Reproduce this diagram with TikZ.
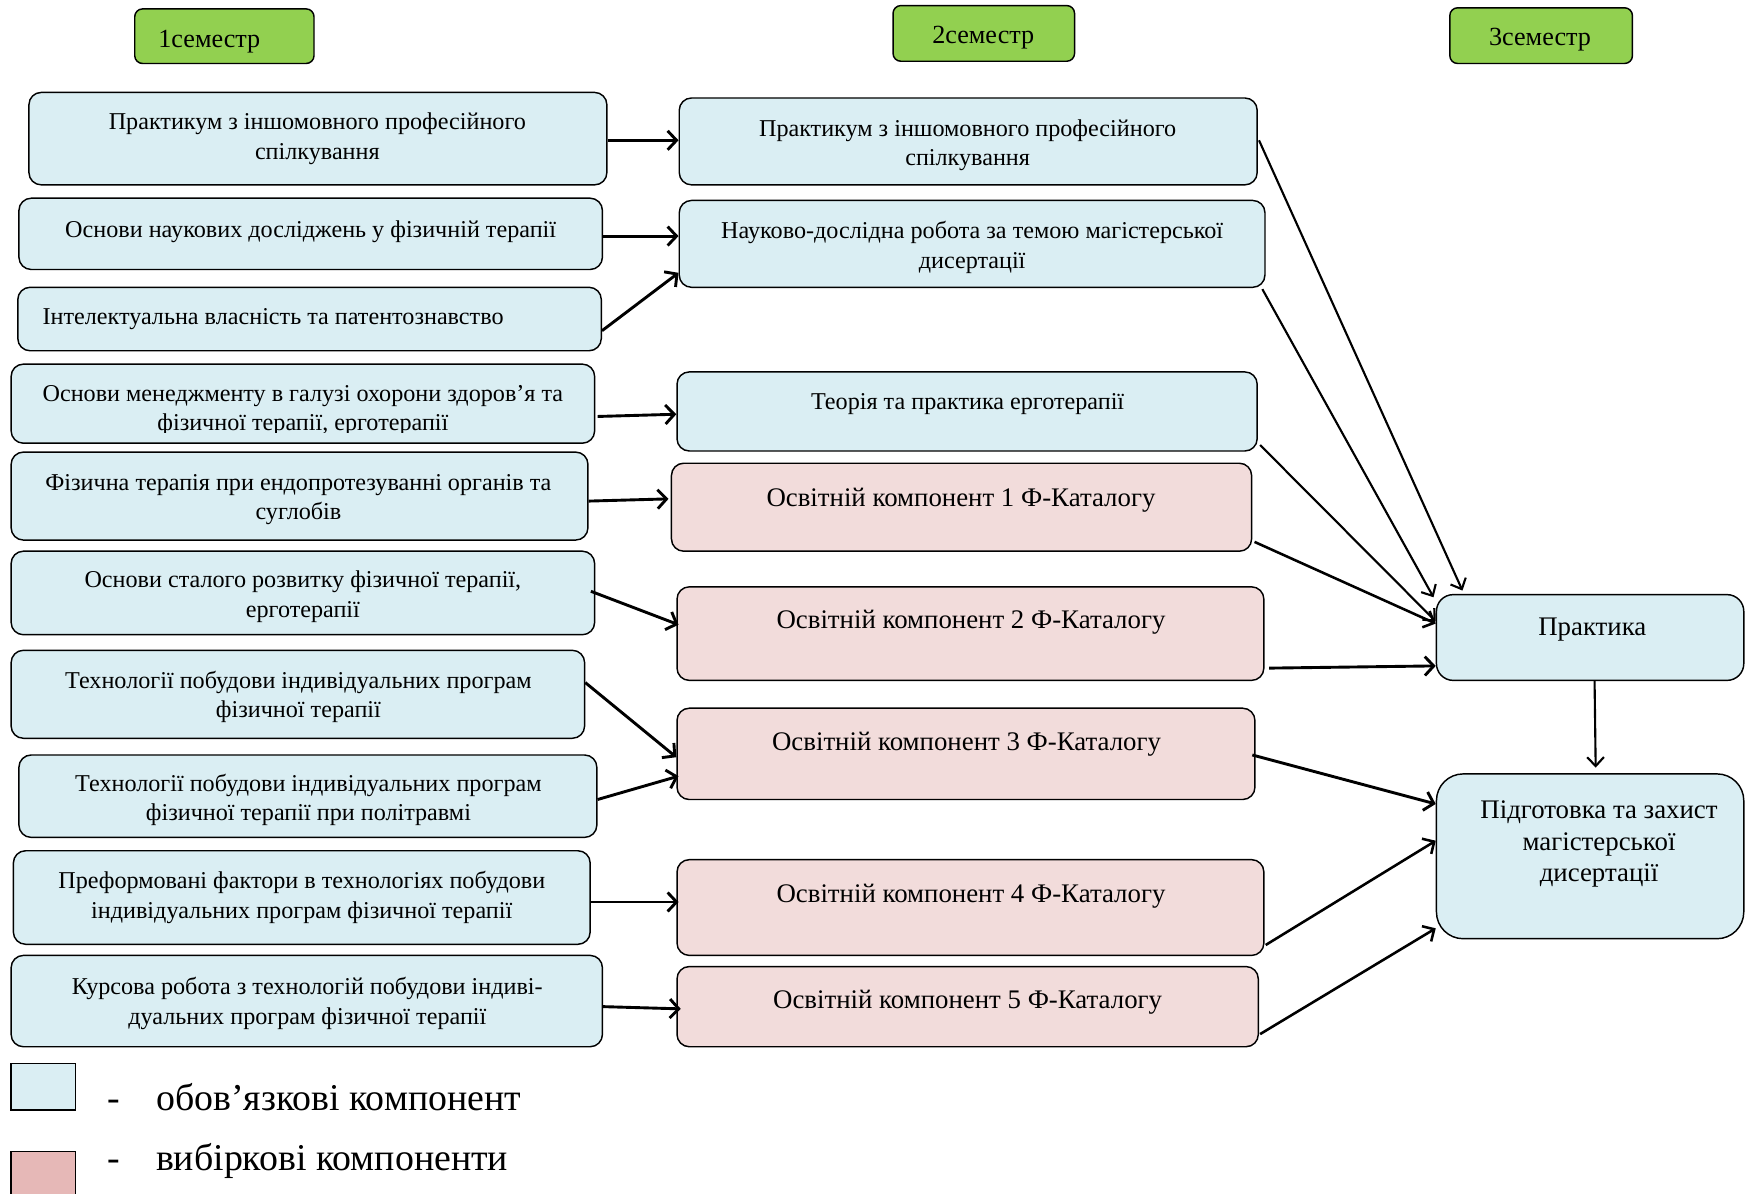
\documentclass[tikz,border=0pt]{standalone}
\usepackage{fontspec}
\setmainfont{Liberation Serif}
\usetikzlibrary{arrows.meta,fit}
\definecolor{bl}{HTML}{DAEEF3}
\definecolor{pk}{HTML}{F2DCDB}
\definecolor{pkl}{HTML}{E6B8B7}
\definecolor{gr}{HTML}{92D050}
\begin{document}
\begin{tikzpicture}[x=1pt,y=-1pt,
  box/.style={draw=black, line width=1.3pt, rounded corners=11pt, inner sep=0pt},
  bbox/.style={box, fill=bl},
  pbox/.style={box, fill=pk},
  hbox/.style={box, fill=gr, rounded corners=7pt},
  tb/.style={align=center, font=\fontsize{21.7}{26.5}\selectfont, inner sep=0pt, yshift=-3pt},
  tp/.style={align=center, font=\fontsize{24.1}{28}\selectfont, inner sep=0pt, yshift=-3pt},
  th/.style={align=center, font=\fontsize{23.5}{28}\selectfont, inner sep=0pt, yshift=-3pt},
  tl/.style={font=\fontsize{34}{38}\selectfont, inner sep=0pt, anchor=base west},
  arr/.style={-{Straight Barb[length=8pt,width=17pt]}, line width=2.6pt},
  arrm/.style={-{Straight Barb[length=8pt,width=16pt]}, line width=2.3pt},
  arrt/.style={-{Straight Barb[length=8pt,width=15pt]}, line width=1.9pt}
]
\useasboundingbox (0,0) rectangle (1568,1072);

% headers
\node[hbox, fit={(121,8) (282,57)}] (H1) {};
\node[th] (H1t) at (188,34) {1семестр};
\node[hbox, fit={(802,5) (965,55)}] (H2) {};
\node[th] (H2t) at (883,31) {2семестр};
\node[hbox, fit={(1302,7) (1466,57)}] (H3) {};
\node[th] (H3t) at (1383,33) {3семестр};

% left column
\node[bbox, fit={(26,83) (545,166)}] (L1) {};
\node[tb] (L1t) at (285,121.5) {Практикум з іншомовного професійного\\спілкування};
\node[bbox, fit={(17,178) (541,242)}] (L2) {};
\node[tb] (L2t) at (279,205) {Основи наукових досліджень у фізичній терапії};
\node[bbox, fit={(16,258) (540,315)}] (L3) {};
\node[tb, anchor=west] (L3t) at (38,284) {Інтелектуальна власність та патентознавство};
\node[bbox, fit={(10,327) (534,398)}] (L4) {};
\begin{scope}
\clip (10,327) rectangle (534,388);
\node[tb] (L4t) at (272,365.5) {Основи менеджменту в галузі охорони здоров’я та\\фізичної терапії, ерготерапії};
\end{scope}
\node[bbox, fit={(10,406) (528,485)}] (L5) {};
\node[tb] (L5t) at (268,445.5) {Фізична терапія при ендопротезуванні органів та\\суглобів};
\node[bbox, fit={(10,495) (534,570)}] (L6) {};
\node[tb] (L6t) at (272,533) {Основи сталого розвитку фізичної терапії,\\ерготерапії};
\node[bbox, fit={(10,584) (525,663)}] (L7) {};
\node[tb] (L7t) at (268,623) {Технології побудови індивідуальних програм\\фізичної терапії};
\node[bbox, fit={(17,678) (536,752)}] (L8) {};
\node[tb] (L8t) at (277,715.5) {Технології побудови індивідуальних програм\\фізичної терапії при політравмі};
\node[bbox, fit={(12,764) (530,848)}] (L9) {};
\node[tb] (L9t) at (271,803) {Преформовані фактори в технологіях побудови\\індивідуальних програм фізичної терапії};
\node[bbox, fit={(10,858) (541,940)}] (L10) {};
\node[tb] (L10t) at (276,898) {Курсова робота з технологій побудови індиві-\\дуальних програм фізичної терапії};

% middle column
\node[bbox, fit={(610,88) (1129,166)}] (M1) {};
\node[tb] (M1t) at (869,127.5) {Практикум з іншомовного професійного\\спілкування};
\node[bbox, fit={(610,180) (1136,258)}] (M2) {};
\node[tb] (M2t) at (873,219) {Науково-дослідна робота за темою магістерської\\дисертації};
\node[bbox, fit={(608,334) (1129,405)}] (M3) {};
\node[tb] (M3t) at (869,360) {Теорія та практика ерготерапії};
\node[pbox, fit={(603,416) (1124,495)}] (M4) {};
\node[tp] (M4t) at (863,446) {Освітній компонент 1 Ф-Каталогу};
\node[pbox, fit={(608,527) (1135,611)}] (M5) {};
\node[tp] (M5t) at (872,556) {Освітній компонент 2 Ф-Каталогу};
\node[pbox, fit={(608,636) (1127,718)}] (M6) {};
\node[tp] (M6t) at (868,665) {Освітній компонент 3 Ф-Каталогу};
\node[pbox, fit={(608,772) (1135,858)}] (M7) {};
\node[tp] (M7t) at (872,802) {Освітній компонент 4 Ф-Каталогу};
\node[pbox, fit={(608,868) (1130,940)}] (M8) {};
\node[tp] (M8t) at (869,897) {Освітній компонент 5 Ф-Каталогу};

% right column
\node[bbox, rounded corners=15pt, fit={(1290,534) (1566,611)}] (R1) {};
\node[tp] (R1t) at (1430,562) {Практика};
\node[bbox, rounded corners=24pt, fit={(1290,695) (1566,843)}] (R2) {};
\node[tp] (R2t) at (1436,755) {Підготовка та захист\\магістерської\\дисертації};

% legend
\node[draw=black, line width=1.3pt, fill=bl, inner sep=0pt, fit={(10,955) (68,997)}] (LB) {};
\node[tl] (LBd) at (96,997) {-};
\node[tl] (LBt) at (140,997) {обов’язкові компонент};
\node[draw=black, line width=1.3pt, fill=pkl, inner sep=0pt, fit={(10,1034) (68,1076)}] (LP) {};
\node[tl] (LPd) at (96,1051) {-};
\node[tl] (LPt) at (140,1051) {вибіркові компоненти};

% connectors left -> middle
\draw[arr] ([yshift=-1.5pt]L1.east) -- ([yshift=1pt]M1.west);
\draw[arr] ([yshift=-2pt]L2.east) -- ([yshift=7pt]M2.west);
\draw[arr] ([yshift=-10.5pt]L3.east) -- ([yshift=-26pt]M2.west);
\draw[arr] ([xshift=2pt,yshift=-11.5pt]L4.east) -- ([yshift=-2.5pt]M3.west);
\draw[arr] ([yshift=-4.5pt]L5.east) -- ([xshift=-2pt,yshift=7.5pt]M4.west);
\draw[arr] ([xshift=-4pt,yshift=1.5pt]L6.east) -- ([xshift=2pt,yshift=8pt]M5.west);
\draw[arr] ([yshift=10.5pt]L7.east) -- ([yshift=-3pt]M6.west);
\draw[arr] ([yshift=-3pt]L8.east) -- ([xshift=2pt,yshift=-20pt]M6.west);
\draw[arr] ([yshift=-4pt]L9.east) -- ([xshift=2pt,yshift=5pt]M7.west);
\draw[arr] ([yshift=-5pt]L10.east) -- ([xshift=4pt,yshift=-2pt]M8.west);

% connectors middle -> right
\draw[arrt] ([xshift=1pt,yshift=1pt]M1.east) -- ([xshift=24pt,yshift=3pt]R1.north west);
\draw[arrt] ([xshift=-3pt,yshift=-1pt]M2.south east) -- ([xshift=-2pt,yshift=-3pt]R1.north west);
\draw[arrt] ([xshift=2pt,yshift=6pt]M3.south east) -- ([yshift=14.5pt]R1.west);
\draw[arrm] ([xshift=2pt,yshift=9pt]M4.south east) -- ([yshift=12.5pt]R1.west);
\draw[arr] ([xshift=4pt,yshift=-31pt]M5.east) -- ([yshift=-25.5pt]R1.west);
\draw[arrt] ([xshift=4pt]R1.south) -- ([xshift=5pt,yshift=5pt]R2.north);
\draw[arr] ([xshift=-3pt,yshift=-1pt]M6.east) -- ([yshift=47pt]R2.west);
\draw[arrm] ([xshift=1pt,yshift=10pt]M7.south east) -- ([yshift=14pt]R2.west);
\draw[arrm] ([xshift=1pt,yshift=12pt]M8.south east) -- ([yshift=10pt]R2.south west);
\end{tikzpicture}
\end{document}
